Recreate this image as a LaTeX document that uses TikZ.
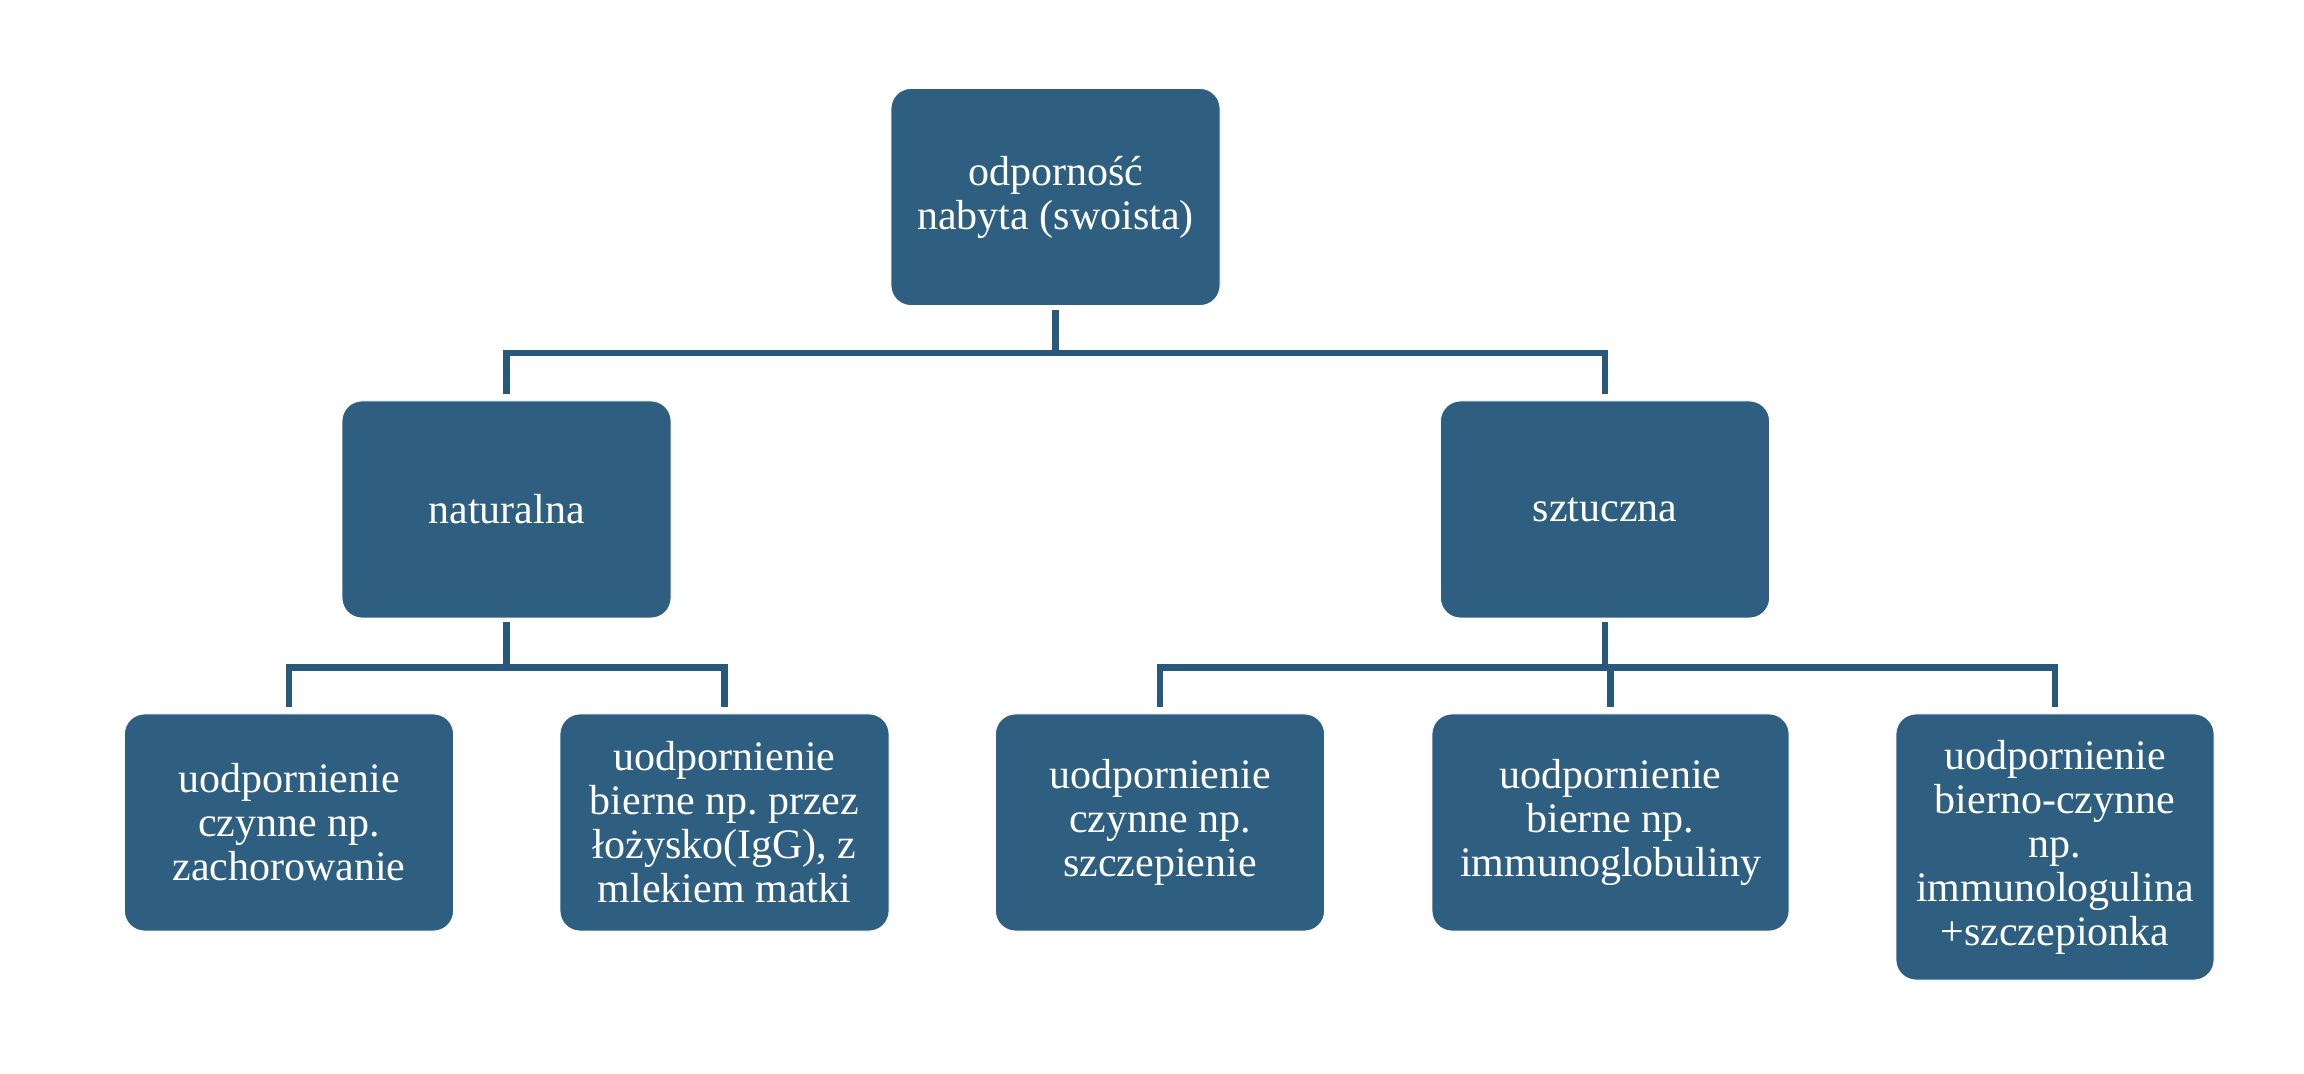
\documentclass[tikz,border=0pt]{standalone}
\usepackage{fontspec}
\setmainfont{Liberation Serif}
\frenchspacing
\definecolor{boxfill}{HTML}{2E5F80}
\definecolor{linecol}{HTML}{28587A}
\begin{document}
\begin{tikzpicture}[x=0.5pt,y=-0.5pt,
  box/.style={draw=white, line width=0.4pt, fill=boxfill, rounded corners=10pt,
    text=white, align=center, inner sep=0pt,
    font=\fontsize{21pt}{22pt}\selectfont\frenchspacing,
    minimum width=164.5pt, minimum height=108.5pt},
  conn/.style={draw=linecol, line width=3.2pt, shorten <=2pt, shorten >=3.5pt}]
\useasboundingbox (0,0) rectangle (2304,1074);
\node[box] (top) at (1055.5,197) {odporność\\nabyta (swoista)};
\node[box] (nat) at (506.5,509.5) {naturalna};
\node[box] (szt) at (1605,509.5) {sztuczna};
\node[box] (b1) at (289,822.5) {uodpornienie\\czynne np.\\zachorowanie};
\node[box] (b2) at (724.5,822.5) {uodpornienie\\bierne np. przez\\łożysko(IgG), z\\mlekiem matki};
\node[box] (b3) at (1160,822.5) {uodpornienie\\czynne np.\\szczepienie};
\node[box, minimum width=178.5pt] (b4) at (1610.5,822.5) {uodpornienie\\bierne np.\\immunoglobuliny};
\node[box, minimum width=159pt, minimum height=133pt] (b5) at (2055,847) {uodpornienie\\bierno-czynne\\np.\\immunologulina\\+szczepionka};
\draw[conn] (top.south) -- ++(0,47) -| (nat.north);
\draw[conn] (top.south) -- ++(0,47) -| (szt.north);
\draw[conn] (nat.south) -- ++(0,49) -| (b1.north);
\draw[conn] (nat.south) -- ++(0,49) -| (b2.north);
\draw[conn] (szt.south) -- ++(0,49) -| (b3.north);
\draw[conn] (szt.south) -- ++(0,49) -| (b4.north);
\draw[conn] (szt.south) -- ++(0,49) -| (b5.north);
\end{tikzpicture}
\end{document}
